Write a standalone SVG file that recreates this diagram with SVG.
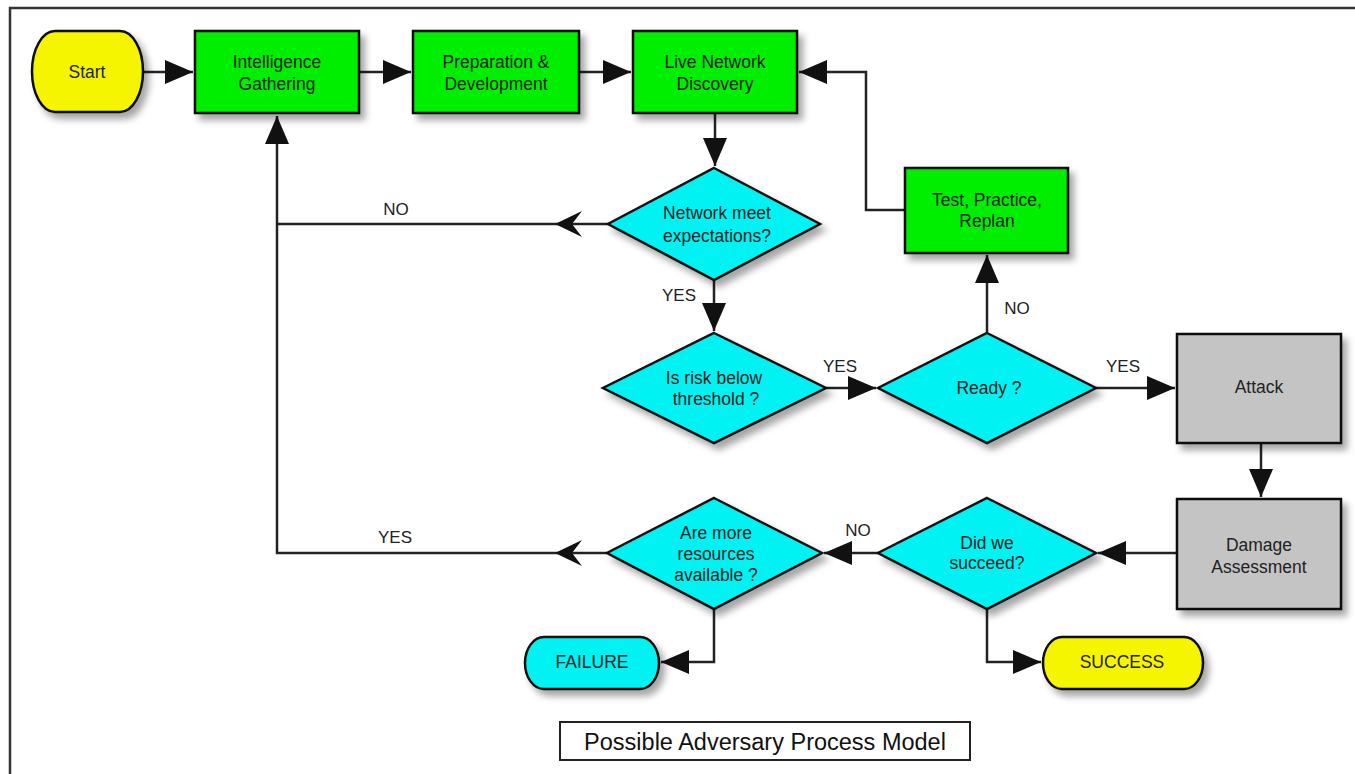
<svg xmlns="http://www.w3.org/2000/svg" width="1355" height="774" viewBox="0 0 1355 774">
<style>
.n{stroke:#111;stroke-width:2.5}
.g{fill:#00ee00}.c{fill:#00f2f2}.y{fill:#f5f500}.gr{fill:#c4c4c4}
.t{font-family:"Liberation Sans",Arial,sans-serif;font-size:17.5px;fill:#222;text-anchor:middle}
.l{font-family:"Liberation Sans",Arial,sans-serif;font-size:17px;fill:#222;text-anchor:middle}
.e{fill:none;stroke:#222;stroke-width:2.5}
.ah{fill:#111}
</style>
<defs>
<filter id="sh" x="-20%" y="-20%" width="150%" height="150%">
<feDropShadow dx="5" dy="6" stdDeviation="3.5" flood-color="#000" flood-opacity="0.35"/>
</filter>
<marker id="arr" markerUnits="userSpaceOnUse" markerWidth="30" markerHeight="26" refX="28" refY="12" orient="auto">
<path d="M0,0 L28,12 L0,24 Z" class="ah"/>
</marker>
</defs>
<rect width="1355" height="774" fill="#fff"/>
<path d="M10,774 V8 H1355" fill="none" stroke="#333" stroke-width="2.5"/>

<g id="connectors">
<path class="e" d="M143,72 H193" marker-end="url(#arr)"/>
<path class="e" d="M359,72 H411" marker-end="url(#arr)"/>
<path class="e" d="M579,72 H631" marker-end="url(#arr)"/>
<path class="e" d="M715,113 V166" marker-end="url(#arr)"/>
<path class="e" d="M608,224 H277"/>
<path class="ah" d="M555,224 L582,211 L572,224 L582,237 Z"/>
<path class="e" d="M607,553 H277 V116" marker-end="url(#arr)"/>
<path class="ah" d="M555,553 L582,540 L572,553 L582,566 Z"/>
<path class="e" d="M714,280 V331" marker-end="url(#arr)"/>
<path class="e" d="M826,388 H876" marker-end="url(#arr)"/>
<path class="e" d="M987,333 V255" marker-end="url(#arr)"/>
<path class="e" d="M905,210 H866 V72 H799" marker-end="url(#arr)"/>
<path class="e" d="M1096,388 H1175" marker-end="url(#arr)"/>
<path class="e" d="M1261,443 V497" marker-end="url(#arr)"/>
<path class="e" d="M1177,553 H1098" marker-end="url(#arr)"/>
<path class="e" d="M878,553 H824" marker-end="url(#arr)"/>
<path class="e" d="M714,609 V662 H661" marker-end="url(#arr)"/>
<path class="e" d="M987,609 V662 H1041" marker-end="url(#arr)"/>
<text class="l" x="396" y="215">NO</text>
<text class="l" x="679" y="301">YES</text>
<text class="l" x="840" y="372">YES</text>
<text class="l" x="1017" y="314">NO</text>
<text class="l" x="1123" y="372">YES</text>
<text class="l" x="858" y="536">NO</text>
<text class="l" x="395" y="543">YES</text>
</g>

<g id="start">
<path class="n y" filter="url(#sh)" d="M55,31 H120 A23,40.5 0 0 1 120,112 H55 A23,40.5 0 0 1 55,31 Z"/>
<text class="t" x="87" y="78">Start</text>
</g>
<g id="intel">
<rect class="n g" filter="url(#sh)" x="195" y="31" width="164" height="82"/>
<text class="t" x="277" y="68">Intelligence</text>
<text class="t" x="277" y="90">Gathering</text>
</g>
<g id="prep">
<rect class="n g" filter="url(#sh)" x="413" y="31" width="166" height="82"/>
<text class="t" x="496" y="68">Preparation &amp;</text>
<text class="t" x="496" y="90">Development</text>
</g>
<g id="live">
<rect class="n g" filter="url(#sh)" x="633" y="31" width="164" height="82"/>
<text class="t" x="715" y="68">Live Network</text>
<text class="t" x="715" y="90">Discovery</text>
</g>
<g id="netmeet">
<path class="n c" filter="url(#sh)" d="M714,168 L820,224 L714,280 L608,224 Z"/>
<text class="t" x="717" y="219">Network meet</text>
<text class="t" x="717" y="242">expectations?</text>
</g>
<g id="risk">
<path class="n c" filter="url(#sh)" d="M714,333 L826,388 L714,443 L603,388 Z"/>
<text class="t" x="714" y="384">Is risk below</text>
<text class="t" x="716" y="405">threshold ?</text>
</g>
<g id="ready">
<path class="n c" filter="url(#sh)" d="M987,333 L1096,388 L987,443 L878,388 Z"/>
<text class="t" x="989" y="394">Ready ?</text>
</g>
<g id="test">
<rect class="n g" filter="url(#sh)" x="905" y="168" width="163" height="85"/>
<text class="t" x="987" y="206">Test, Practice,</text>
<text class="t" x="987" y="227">Replan</text>
</g>
<g id="attack">
<rect class="n gr" filter="url(#sh)" x="1177" y="334" width="164" height="109"/>
<text class="t" x="1259" y="393">Attack</text>
</g>
<g id="damage">
<rect class="n gr" filter="url(#sh)" x="1177" y="499" width="164" height="110"/>
<text class="t" x="1259" y="551">Damage</text>
<text class="t" x="1259" y="573">Assessment</text>
</g>
<g id="succeed">
<path class="n c" filter="url(#sh)" d="M987,498 L1096,553 L987,609 L878,553 Z"/>
<text class="t" x="987" y="549">Did we</text>
<text class="t" x="987" y="569">succeed?</text>
</g>
<g id="resources">
<path class="n c" filter="url(#sh)" d="M714,498 L822,553 L714,609 L607,553 Z"/>
<text class="t" x="716" y="539">Are more</text>
<text class="t" x="716" y="560">resources</text>
<text class="t" x="716" y="581">available ?</text>
</g>
<g id="failure">
<path class="n c" filter="url(#sh)" d="M544,637 H640 A19,26 0 0 1 640,689 H544 A19,26 0 0 1 544,637 Z"/>
<text class="t" x="592" y="668">FAILURE</text>
</g>
<g id="success">
<path class="n y" filter="url(#sh)" d="M1062,637 H1184 A19,26 0 0 1 1184,689 H1062 A19,26 0 0 1 1062,637 Z"/>
<text class="t" x="1122" y="668">SUCCESS</text>
</g>
<g id="title">
<rect x="560" y="722" width="410" height="38" fill="#fff" stroke="#222" stroke-width="2"/>
<text x="765" y="750" font-family="Liberation Sans, Arial, sans-serif" font-size="23.5" fill="#111" text-anchor="middle">Possible Adversary Process Model</text>
</g>
</svg>
